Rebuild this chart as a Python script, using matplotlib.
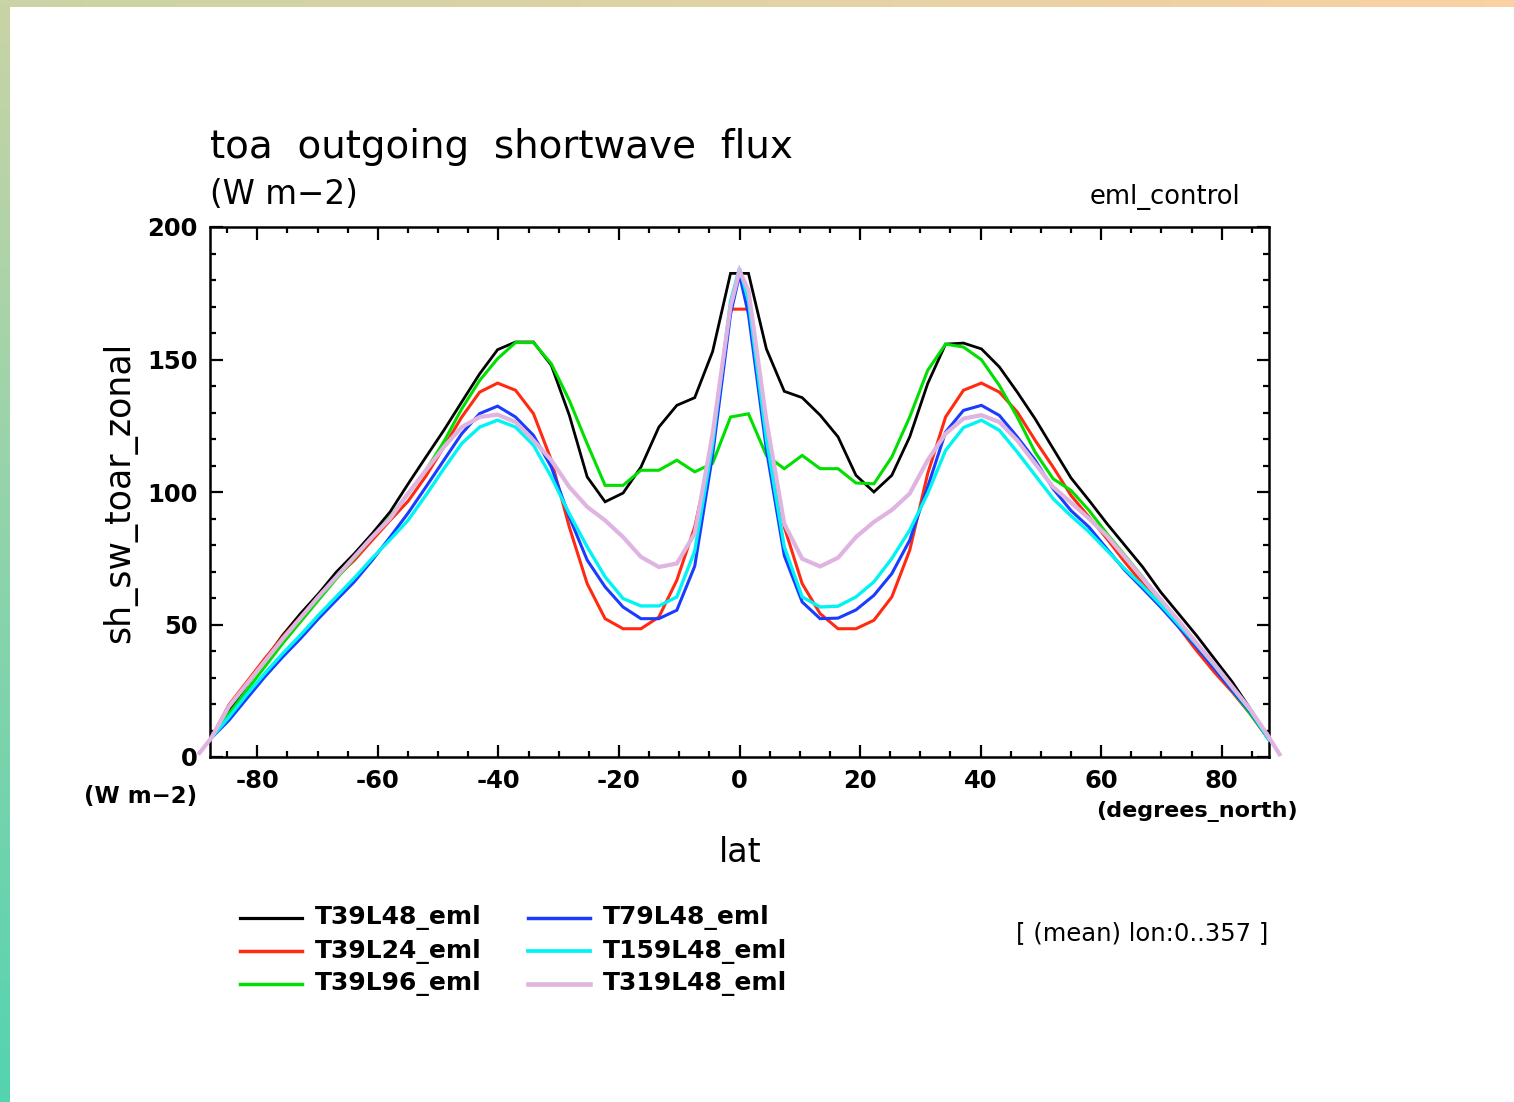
import numpy as np
import matplotlib
matplotlib.use("Agg")
import matplotlib.pyplot as plt
from matplotlib.lines import Line2D
from matplotlib.ticker import MultipleLocator

# ---------------- data ----------------
# T39 Gaussian latitudes (60 points)
lat_t39 = [-87.70, -84.73, -81.76, -78.78, -75.81, -72.84, -69.86, -66.89, -63.92, -60.95,
           -57.97, -55.00, -52.03, -49.05, -46.08, -43.11, -40.14, -37.16, -34.19, -31.22,
           -28.24, -25.27, -22.30, -19.32, -16.35, -13.38, -10.40, -7.43, -4.46, -1.49,
           1.49, 4.46, 7.43, 10.40, 13.38, 16.35, 19.32, 22.30, 25.27, 28.24,
           31.22, 34.19, 37.16, 40.14, 43.11, 46.08, 49.05, 52.03, 55.00, 57.97,
           60.95, 63.92, 66.89, 69.86, 72.84, 75.81, 78.78, 81.76, 84.73, 87.70]

# higher-resolution runs, sampled at these latitudes
lat_hr = [-89.60, -87.70, -84.73, -81.76, -78.78, -75.81, -72.84, -69.86, -66.89, -63.92, -60.95,
          -57.97, -55.00, -52.03, -49.05, -46.08, -43.11, -40.14, -37.16, -34.19, -31.22,
          -28.24, -25.27, -22.30, -19.32, -16.35, -13.38, -10.40, -7.43, -4.46, -1.49,
          0.0,
          1.49, 4.46, 7.43, 10.40, 13.38, 16.35, 19.32, 22.30, 25.27, 28.24,
          31.22, 34.19, 37.16, 40.14, 43.11, 46.08, 49.05, 52.03, 55.00, 57.97,
          60.95, 63.92, 66.89, 69.86, 72.84, 75.81, 78.78, 81.76, 84.73, 87.70, 89.60]

t39l48 = [7, 17.5, 27, 36.5, 45.9, 54.1, 61.6, 69.8, 76.7, 84.3,
          92.5, 103, 113.2, 123.3, 134, 144.6, 153.7, 156.6, 156.6, 147.8,
          129, 105.7, 96.3, 99.6, 109.4, 124.5, 132.7, 135.6, 153, 182.5,
          182.5, 154, 138, 135.6, 129, 120.8, 106.3, 100, 106.3, 120.8,
          140.9, 155.8, 156.2, 154, 147.2, 137.7, 127.6, 116.4, 105.3, 96.9,
          88.1, 79.9, 71.7, 62.3, 54.1, 45.9, 37.1, 28.3, 18.2, 7]

t39l24 = [7, 19.6, 28.3, 37.1, 45.3, 52.8, 60.4, 67.9, 74.2, 81.8,
          89.3, 96.5, 106, 117, 128.3, 137.7, 141.1, 138.4, 129.6, 112,
          86.8, 65.4, 52.2, 48.4, 48.4, 52.8, 66.7, 86.8, 118, 169,
          169, 120, 86.8, 65.4, 54.1, 48.4, 48.4, 51.6, 60.4, 78,
          106.9, 128.3, 138.4, 141.1, 137.7, 130.2, 119.5, 109.4, 98.7, 90.6,
          82.4, 73.6, 65.4, 57.2, 49.1, 40.2, 32, 24.5, 16.3, 7]

t39l96 = [7, 16.3, 25.1, 34, 42.8, 51, 59.2, 67.3, 74.9, 83,
          90.6, 99.4, 108.2, 119, 131.4, 142.1, 150.3, 156.4, 156.4, 148.4,
          134.6, 118.2, 102.5, 102.5, 108.2, 108.2, 112, 107.6, 110.8, 128.3,
          129.5, 113.8, 108.8, 113.8, 108.8, 108.8, 103.4, 103.1, 113.2, 128.3,
          145.9, 155.8, 154.7, 149.9, 140.2, 128.3, 115, 105, 100.6, 93.1,
          84.3, 76.1, 67.9, 59.1, 51, 42.1, 34, 25.1, 16.3, 7]

t79l48 = [1, 7, 13.8, 22, 30.2, 37.7, 44.7, 52.2, 59.2, 66.1, 74.2,
          83, 92, 101.9, 112, 122, 129.6, 132.4, 128.3, 121.4, 109.4,
          90.6, 74.3, 64.2, 56.6, 52.2, 52.2, 55.4, 72, 114, 167,
          182,
          167, 116, 76, 58.5, 52.2, 52.4, 55.5, 61, 69.2, 81.8,
          101.9, 122.6, 130.8, 132.7, 128.9, 120.8, 112, 101.2, 93, 86.8,
          78.6, 70.5, 63.6, 56.6, 49.1, 41.6, 33.4, 25.1, 17, 7, 1]

t159l48 = [1, 7, 15, 23.5, 31.5, 39, 46, 53.5, 60.5, 67.5, 75,
           82, 89.3, 98.8, 108.8, 118.3, 124.5, 127.1, 124.5, 117.7, 105.7,
           91.8, 79.3, 68, 59.8, 57, 57, 60.4, 77.7, 118, 172,
           184.5,
           172, 120, 79.3, 60.4, 56.6, 56.9, 60.4, 66.1, 74.9, 85.6,
           99.4, 115.7, 124.3, 127.1, 123.3, 115.1, 106.3, 97.5, 91, 85,
           78, 71, 64.5, 57.5, 50, 42.5, 34.5, 26, 17.5, 7, 1]

t319l48 = [1.5, 7, 19, 27.5, 36, 44.5, 52.5, 60.5, 68, 75.5, 83,
           90, 99.4, 108.2, 117, 124.5, 128.3, 129.2, 126.4, 119.5, 112,
           101.9, 94.4, 89.3, 83, 75.5, 71.7, 73, 84.3, 122, 170,
           183.5,
           176, 127, 88, 74.8, 71.9, 75.2, 83, 88.7, 93.2, 99.4,
           112, 122, 127.7, 129, 126.4, 119.5, 110.7, 101.9, 96, 90,
           83.5, 75.5, 67.5, 59.5, 51.5, 43, 35, 26.5, 18, 8, 1]

series_names = ["T39L48_eml", "T39L24_eml", "T39L96_eml", "T79L48_eml", "T159L48_eml", "T319L48_eml"]
x_ticks = [-80, -60, -40, -20, 0, 20, 40, 60, 80]
y_ticks = [0, 50, 100, 150, 200]

# ---------------- figure ----------------
W, H = 1514, 1102
fig = plt.figure(figsize=(W / 100, H / 100), dpi=100)
fig.patch.set_facecolor("white")

def fx(px):
    return px / W

def fy(py):
    return 1 - py / H

# decorative slide border (gradient strips)
top = fig.add_axes([0, fy(7), 1, 7 / H])
g = np.linspace(0, 1, 256)
c0 = np.array([0.79, 0.83, 0.65]); c1 = np.array([0.98, 0.82, 0.64])
top.imshow((c0[None, :] * (1 - g[:, None]) + c1[None, :] * g[:, None])[None, :, :], aspect="auto")
top.axis("off")
left = fig.add_axes([0, 0, 10 / W, 1])
d0 = np.array([0.79, 0.83, 0.65]); d1 = np.array([0.33, 0.83, 0.69])
left.imshow((d0[None, :] * (1 - g[:, None]) + d1[None, :] * g[:, None])[:, None, :], aspect="auto")
left.axis("off")

ax = fig.add_axes([fx(210), fy(757), (1269 - 210) / W, (757 - 227) / H])

colors = ["#000000", "#ff2a10", "#00e000", "#1a3cff", "#00f4f4", "#e0b4e0"]
widths = [2.0, 2.2, 2.2, 2.2, 2.4, 3.0]
lats = [lat_t39, lat_t39, lat_t39, lat_hr, lat_hr, lat_hr]
vals = [t39l48, t39l24, t39l96, t79l48, t159l48, t319l48]
for i, (la, v) in enumerate(zip(lats, vals)):
    ax.plot(la, v, color=colors[i], lw=widths[i], clip_on=(i != 5), zorder=2 + i,
            solid_joinstyle="miter")

ax.set_xlim(-87.85, 87.85)
ax.set_ylim(0, 200)
ax.set_xticks(x_ticks)
ax.set_xticklabels([str(t) for t in x_ticks])
ax.set_yticks(y_ticks)
ax.xaxis.set_minor_locator(MultipleLocator(5))
ax.yaxis.set_minor_locator(MultipleLocator(10))
ax.tick_params(which="both", direction="in", top=True, right=True, width=1.6)
ax.tick_params(which="major", length=9)
ax.tick_params(which="minor", length=4.5)
ax.tick_params(axis="x", which="major", pad=9)
ax.tick_params(axis="y", which="major", pad=9)
for lab in ax.get_xticklabels() + ax.get_yticklabels():
    lab.set_fontsize(17.5)
    lab.set_fontweight("bold")
for s in ax.spines.values():
    s.set_linewidth(1.8)

# texts
fig.text(fx(210), fy(147), "toa  outgoing  shortwave  flux", fontsize=28, ha="left", va="center")
fig.text(fx(210), fy(195), "(W m\u22122)", fontsize=23.5, ha="left", va="center")
fig.text(fx(1240), fy(197), "eml_control", fontsize=18.5, ha="right", va="center")
fig.text(fx(120), fy(492), "sh_sw_toar_zonal", fontsize=25, rotation=90, ha="center", va="center")
fig.text(fx(197), fy(797), "(W m\u22122)", fontsize=16.5, fontweight="bold", ha="right", va="center")
fig.text(fx(1298), fy(812), "(degrees_north)", fontsize=16, fontweight="bold", ha="right", va="center")
fig.text(fx(740), fy(852), "lat", fontsize=24, ha="center", va="center")
fig.text(fx(1268), fy(933), "[ (mean) lon:0..357 ]", fontsize=17.5, ha="right", va="center")

# legend
legend_pos = [(240, 918), (240, 951), (240, 984), (528, 918), (528, 951), (528, 984)]
for i, (lx, ly) in enumerate(legend_pos):
    fig.add_artist(Line2D([fx(lx), fx(lx + 62)], [fy(ly), fy(ly)], color=colors[i],
                          lw=widths[i] + 0.3, transform=fig.transFigure))
    fig.text(fx(lx + 75), fy(ly), series_names[i], fontsize=18, fontweight="bold",
             ha="left", va="center")

fig.savefig("out.png", dpi=100, facecolor="white")
